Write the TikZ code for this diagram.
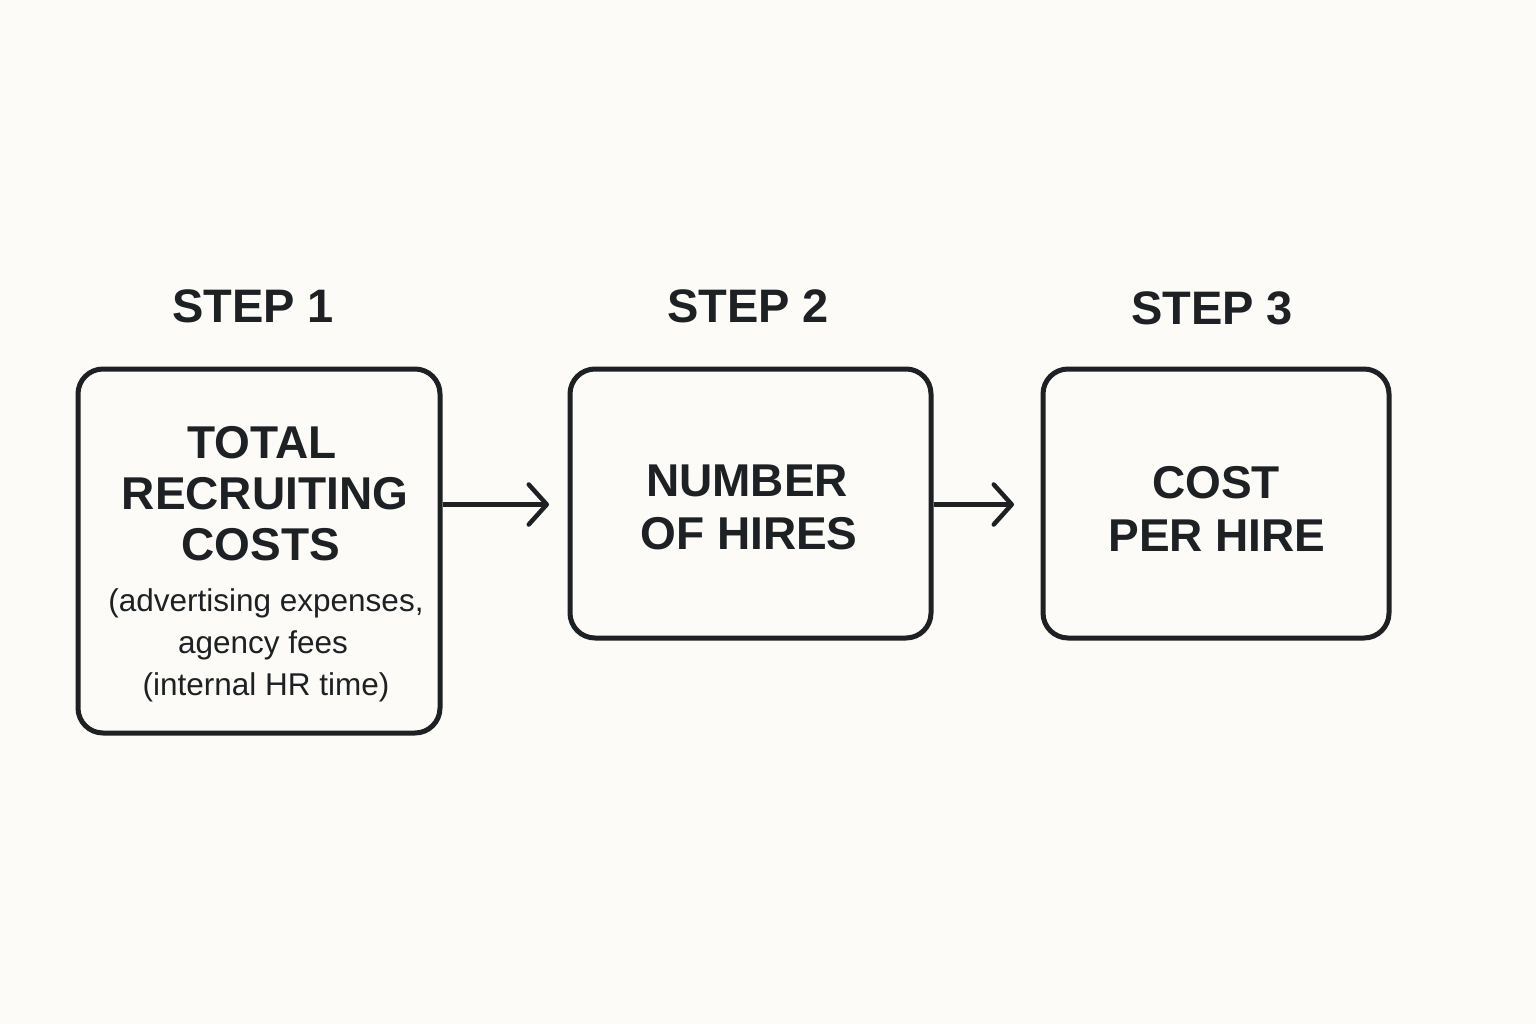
\documentclass[tikz,border=0pt]{standalone}
\usepackage{fontspec}
\setmainfont{Liberation Sans}
\usetikzlibrary{arrows.meta}
\definecolor{bg}{HTML}{FCFBF7}
\definecolor{ink}{HTML}{1E2124}
\begin{document}
\begin{tikzpicture}[x=1pt,y=-1pt,
  box/.style={draw=ink,line width=5pt,rounded corners=25pt,inner sep=0pt},
  steplabel/.style={text=ink,font=\fontsize{47}{50}\selectfont\bfseries,anchor=base,inner sep=0pt},
  titletext/.style={text=ink,font=\fontsize{46}{51}\selectfont\bfseries,align=center,anchor=base,inner sep=0pt},
  subtext/.style={text=ink,font=\fontsize{31.5}{42}\selectfont,align=center,anchor=base,inner sep=0pt},
  flow/.style={draw=ink,line width=4.5pt,-{Straight Barb[length=18pt,width=40pt,line width=4.5pt,line cap=round,line join=round]}}]
\fill[bg] (0,0) rectangle (1536,1024);
\useasboundingbox (0,0) rectangle (1536,1024);
% boxes
\node[box,minimum width=362pt,minimum height=364pt] (b1) at (259,551) {};
\node[box,minimum width=361pt,minimum height=269pt] (b2) at (750.5,503.5) {};
\node[box,minimum width=346pt,minimum height=269pt] (b3) at (1216,503.5) {};
% step labels
\node[steplabel] (s1) at (253,322) {STEP 1};
\node[steplabel] (s2) at (748,322) {STEP 2};
\node[steplabel] (s3) at (1212,324) {STEP 3};
% box texts
\node[titletext] (t1a) at (262,458) {TOTAL};
\node[titletext] (t1b) at (265,509) {RECRUITING};
\node[titletext] (t1c) at (261,560) {COSTS};
\node[subtext] (u1a) at (266,611) {(advertising expenses,};
\node[subtext] (u1b) at (263,653) {agency fees};
\node[subtext] (u1c) at (266,695) {(internal HR time)};
\node[titletext] (t2a) at (747,496) {NUMBER};
\node[titletext] (t2b) at (749,549) {OF HIRES};
\node[titletext] (t3a) at (1216,498) {COST};
\node[titletext] (t3b) at (1217,551) {PER HIRE};
% connectors
\coordinate (e1) at (549,504.5);
\coordinate (e2) at (1014,504.5);
\draw[flow] (b1.east |- e1) -- (e1);
\draw[flow] (b2.east |- e2) -- (e2);
\end{tikzpicture}
\end{document}
